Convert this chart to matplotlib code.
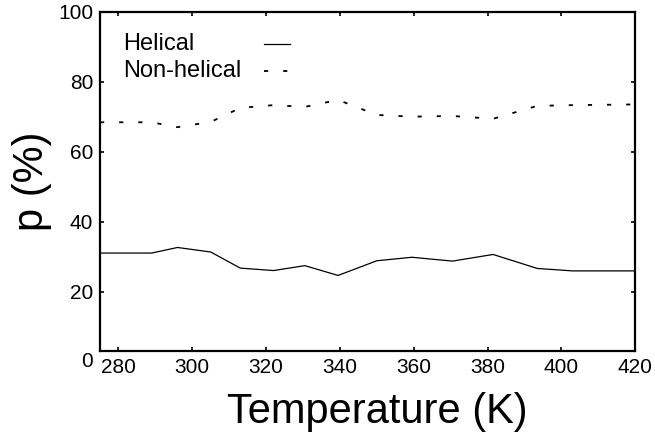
import matplotlib
matplotlib.use("Agg")
import matplotlib.pyplot as plt

plt.rcParams['font.family'] = ['Liberation Sans', 'DejaVu Sans']

# datos
temperatura = [275, 289, 296, 305, 313, 322, 330.5, 339.5, 350, 359.5, 370.5, 381.5, 393.5, 403, 420]
helical = [31.0, 31.0, 32.6, 31.3, 26.7, 26.0, 27.4, 24.6, 28.8, 29.8, 28.7, 30.6, 26.6, 25.9, 25.9]
no_helical = [68.4, 68.4, 67.0, 68.5, 72.5, 73.3, 72.8, 74.8, 70.5, 70.0, 70.2, 69.4, 73.1, 73.3, 73.5]
xticks = [280, 300, 320, 340, 360, 380, 400, 420]
yticks = [20, 40, 60, 80, 100]

guiones = (0, (2.3, 8.3))

fig = plt.figure(figsize=(6.55, 4.44), dpi=100)
ax = fig.add_axes([0.1527, 0.2095, 0.817, 0.764])

ax.plot(temperatura, helical, color='black', lw=0.9)
ax.plot(temperatura, no_helical, color='black', lw=1.3, linestyle=guiones)

ax.set_xlim(275, 420)
ax.set_ylim(3, 100)
ax.set_xticks(xticks)
ax.set_yticks(yticks)
ax.tick_params(direction='in', length=3, width=1.2, labelsize=15, top=True, right=True, pad=5)
for s in ax.spines.values():
    s.set_linewidth(1.6)

# el 0 queda por debajo del eje
ax.annotate('0', xy=(0, 0), xycoords=('axes fraction', 'data'), xytext=(-5, 0),
            textcoords='offset points', ha='right', va='center', fontsize=15,
            annotation_clip=False)

ax.set_xlabel('Temperature (K)', fontsize=30)
ax.xaxis.set_label_coords(0.519, -0.12)
ax.xaxis.label.set_va('top')
ax.set_ylabel('p (%)', fontsize=30, labelpad=4)

# leyenda a mano: texto primero, luego la linea
ax.text(0.043, 0.905, 'Helical', transform=ax.transAxes, fontsize=17, va='center')
ax.text(0.043, 0.826, 'Non-helical', transform=ax.transAxes, fontsize=17, va='center')
ax.plot([0.307, 0.355], [0.905, 0.905], transform=ax.transAxes, color='black', lw=0.9)
ax.plot([0.307, 0.355], [0.826, 0.826], transform=ax.transAxes, color='black', lw=1.3,
        linestyle=guiones)

plt.savefig('out.png', dpi=100)
